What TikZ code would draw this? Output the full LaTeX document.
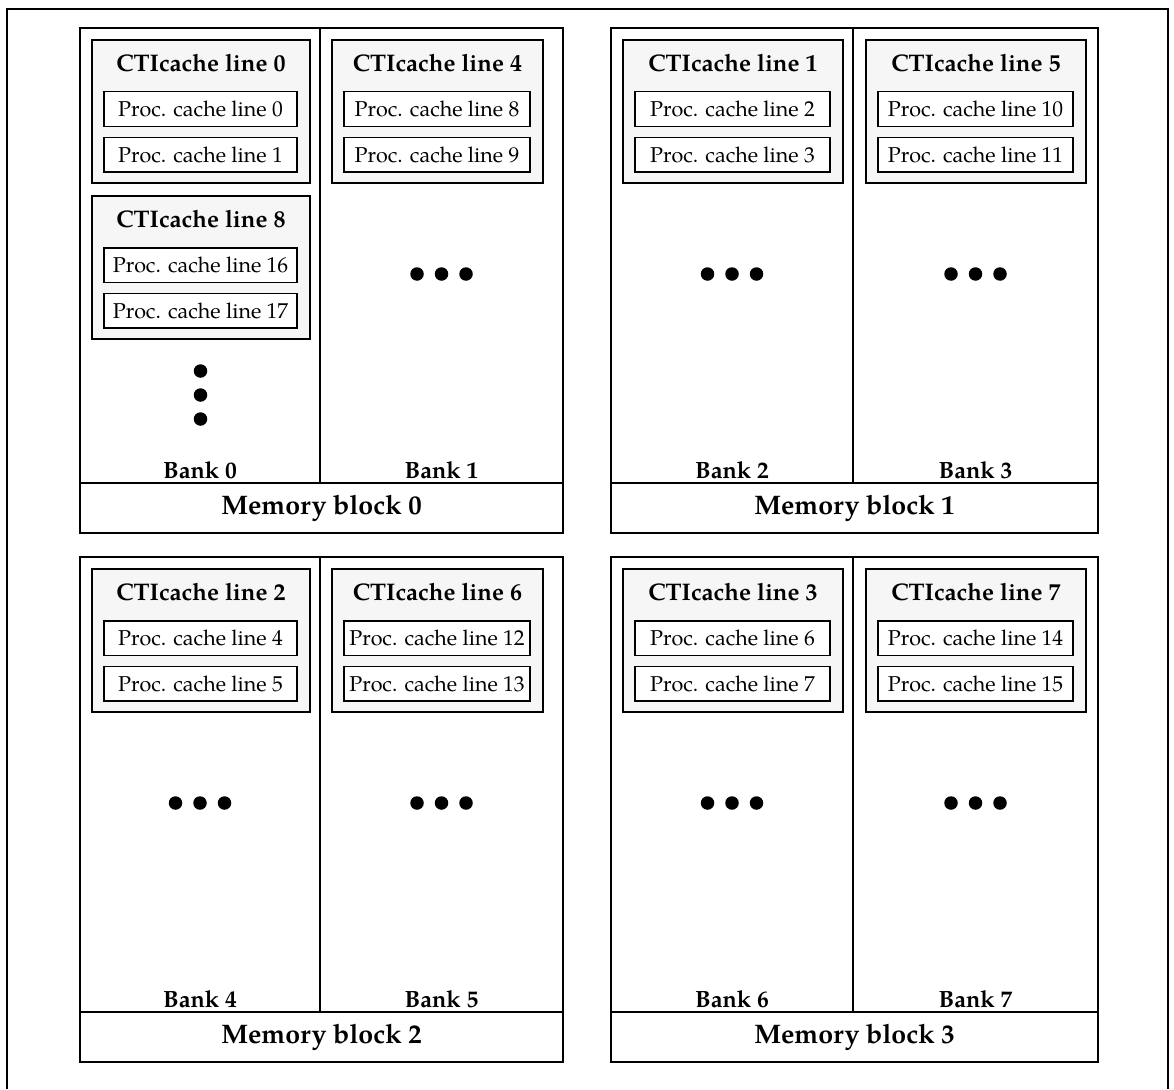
\documentclass[tikz,border=0pt]{standalone}
\usepackage{fontspec}
\setmainfont{texgyrepagella}[Extension=.otf, UprightFont=*-regular, BoldFont=*-bold, ItalicFont=*-italic, BoldItalicFont=*-bolditalic]

\tikzset{
  outerframe/.style={line width=1.6pt},
  blk/.style={draw, line width=1.6pt, inner sep=0pt},
  cti/.style={draw, line width=1.8pt, fill=gray!7, inner sep=0pt},
  procbox/.style={draw, line width=1.5pt, fill=white, inner sep=0pt, font=\fontsize{21.5}{24}\selectfont},
  ctititle/.style={inner sep=0pt, font=\bfseries\fontsize{24}{27}\selectfont},
  banklbl/.style={inner sep=0pt, font=\bfseries\fontsize{23.5}{26}\selectfont},
  memlbl/.style={blk, font=\bfseries\fontsize{26.8}{30}\selectfont},
  blackdot/.style={circle, fill=black, inner sep=0pt, minimum size=13.5pt}
}

% #1 name, #2 x left, #3 x right, #4 y top, #5 cti number, #6 #7 proc numbers
\newcommand\CTIbox[7]{%
  \node[cti, minimum width={#3-#2}, minimum height=143] (#1) at ({(#2+#3)/2},{#4+71.5}) {};
  \node[ctititle] (#1t) at ({(#2+#3)/2},{#4+23}) {CTIcache line #5};
  \node[procbox, minimum width={#3-#2-25}, minimum height=34.5] (#1a) at ({(#2+#3)/2-0.5},{#4+69}) {Proc. cache line #6};
  \node[procbox, minimum width={#3-#2-25}, minimum height=34.5] (#1b) at ({(#2+#3)/2-0.5},{#4+114.5}) {Proc. cache line #7};
}

% #1 name, #2 x0, #3 split, #4 x1, #5 y0, #6 block no, #7 left bank, #8 right bank
\newcommand\MemBlock[8]{%
  \node[blk, minimum width={#3-#2}, minimum height=455] (#1l) at ({(#2+#3)/2},{#5+227.5}) {};
  \node[blk, minimum width={#4-#3}, minimum height=455] (#1r) at ({(#3+#4)/2},{#5+227.5}) {};
  \node[memlbl, minimum width={#4-#2}, minimum height=50] (#1m) at ({(#2+#4)/2},{#5+480}) {Memory block #6};
  \node[banklbl] (#1lb) at ({(#2+#3)/2},{#5+442}) {Bank #7};
  \node[banklbl] (#1rb) at ({(#3+#4)/2},{#5+442}) {Bank #8};
}

% #1 name, #2 x centre, #3 y centre
\newcommand\DotRow[3]{%
  \node[blackdot] (#1a) at ({#2-24.5},#3) {};
  \node[blackdot] (#1b) at (#2,#3) {};
  \node[blackdot] (#1c) at ({#2+24.5},#3) {};
}

\begin{document}
\begin{tikzpicture}[x=1pt,y=-1pt]
  \useasboundingbox (0,0) rectangle (1174,1089);
  \fill[white] (0,0) rectangle (1174,1089);

  % outer figure frame (open at the bottom)
  \coordinate (fbl) at (7,1089);
  \coordinate (ftl) at (7,9);
  \coordinate (ftr) at (1168,9);
  \coordinate (fbr) at (1168,1089);
  \draw[outerframe] (fbl) -- (ftl) -- (ftr) -- (fbr);

  % memory blocks
  \MemBlock{mb0}{80}{320}{563}{28}{0}{0}{1}
  \MemBlock{mb1}{611}{853}{1098}{28}{1}{2}{3}
  \MemBlock{mb2}{80}{320}{563}{557}{2}{4}{5}
  \MemBlock{mb3}{611}{853}{1098}{557}{3}{6}{7}

  % CTIcache lines
  \CTIbox{c0}{92}{310}{40}{0}{0}{1}
  \CTIbox{c8}{92}{310}{196}{8}{16}{17}
  \CTIbox{c4}{332}{543}{40}{4}{8}{9}
  \CTIbox{c1}{623}{843}{40}{1}{2}{3}
  \CTIbox{c5}{866}{1086}{40}{5}{10}{11}
  \CTIbox{c2}{92}{310}{569}{2}{4}{5}
  \CTIbox{c6}{332}{543}{569}{6}{12}{13}
  \CTIbox{c3}{623}{843}{569}{3}{6}{7}
  \CTIbox{c7}{866}{1086}{569}{7}{14}{15}

  % vertical ellipsis in bank 0
  \node[blackdot] (v1) at (200.5,371) {};
  \node[blackdot] (v2) at (200.5,395) {};
  \node[blackdot] (v3) at (200.5,419) {};

  % horizontal ellipses
  \DotRow{d1}{441.5}{274}
  \DotRow{d2}{732}{274}
  \DotRow{d3}{975.5}{274}
  \DotRow{d4}{200}{803}
  \DotRow{d5}{441.5}{803}
  \DotRow{d6}{732}{803}
  \DotRow{d7}{975.5}{803}
\end{tikzpicture}
\end{document}
